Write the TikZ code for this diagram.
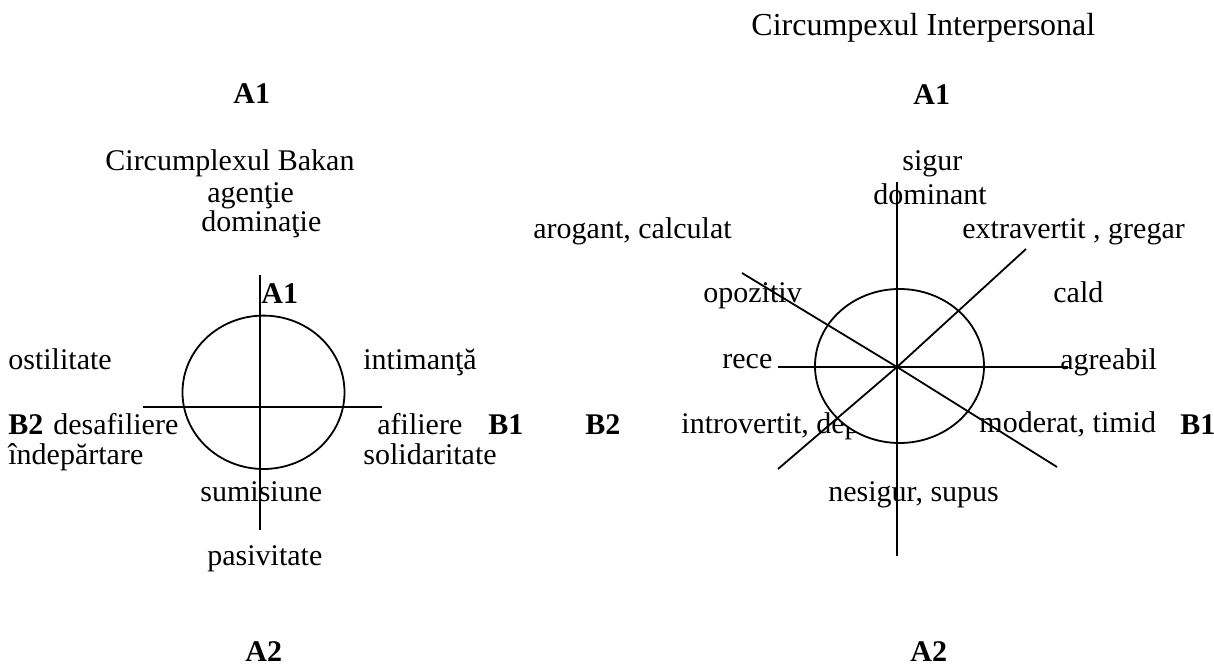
\documentclass[tikz,border=0pt]{standalone}
\usepackage{fontspec}
\setmainfont{Liberation Serif}
\begin{document}
\begin{tikzpicture}[x=0.5pt,y=-0.5pt,
  lbl/.style={anchor=base west,inner sep=0pt,font=\fontsize{15}{18}\selectfont},
  bl/.style={anchor=base west,inner sep=0pt,font=\fontsize{15}{18}\selectfont\bfseries},
  ttl/.style={anchor=base west,inner sep=0pt,font=\fontsize{16}{19}\selectfont},
  axis/.style={line width=0.9pt,black}]
\useasboundingbox (0,0) rectangle (1214,667);
% ---------- left diagram ----------
\node[bl]  (LA1)  at (233,104) {A1};
\node[lbl] (Lttl) at (105,171) {Circumplexul Bakan};
\node[lbl] (Lag)  at (207,203) {agenţie};
\node[lbl] (Ldom) at (201,232) {dominaţie};
\node[bl]  (LA1i) at (261,304) {A1};
\node[lbl] (Lost) at (8,370) {ostilitate};
\node[lbl] (Lint) at (363,370) {intimanţă};
\node[bl]  (LB2)  at (8,435) {B2};
\node[lbl] (Ldes) at (53,435) {desafiliere};
\node[lbl] (Laf)  at (377,435) {afiliere};
\node[bl]  (LB1)  at (488,435) {B1};
\node[lbl] (Lind) at (8,465) {îndepărtare};
\node[lbl] (Lsol) at (363,465) {solidaritate};
\node[lbl] (Lsum) at (200,502) {sumisiune};
\node[lbl] (Lpas) at (207,565) {pasivitate};
\node[bl]  (LA2)  at (245,661) {A2};
\coordinate (Lvt) at (260,275);
\coordinate (Lvb) at (260,530);
\coordinate (Lhl) at (143,406.7);
\coordinate (Lhr) at (382,406.7);
\coordinate (Lc) at (263.5,392.3);
\draw[axis] (Lc) ellipse [x radius=81, y radius=76.7];
\draw[axis] (Lvt) -- (Lvb);
\draw[axis] (Lhl) -- (Lhr);
% ---------- right diagram ----------
\node[ttl] (Rttl) at (751,36) {Circumpexul Interpersonal};
\node[bl]  (RA1)  at (913,105) {A1};
\node[lbl] (Rsig) at (902,171) {sigur};
\node[lbl] (Rdom) at (873,205) {dominant};
\node[lbl] (Raro) at (533,239) {arogant, calculat};
\node[lbl] (Rext) at (962,239) {extravertit , gregar};
\node[lbl] (Ropo) at (703,303) {opozitiv};
\node[lbl] (Rcal) at (1053,303) {cald};
\node[lbl] (Rrec) at (722,369) {rece};
\node[lbl] (Ragr) at (1060,370) {agreabil};
\node[bl]  (RB2)  at (585,435) {B2};
\node[lbl] (Rint) at (681,434) {introvertit, dep};
\node[lbl] (Rmod) at (979,433) {moderat, timid};
\node[bl]  (RB1)  at (1180,435) {B1};
\node[lbl] (Rnes) at (828,502) {nesigur, supus};
\node[bl]  (RA2)  at (910,661) {A2};
\coordinate (Rc) at (897,367);
\coordinate (Rvt) at (897,182);
\coordinate (Rvb) at (897,556);
\coordinate (Rhl) at (778,367);
\coordinate (Rhr) at (1068,367);
\coordinate (Rd1a) at (742,273);
\coordinate (Rd1b) at (1057,467);
\coordinate (Rd2a) at (1026,249);
\coordinate (Rd2b) at (778,469);
\coordinate (Re) at (899.5,366);
\draw[axis,fill=white] (Re) ellipse [x radius=84.5, y radius=77];
\draw[axis] (Rvt) -- (Rvb);
\draw[axis] (Rhl) -- (Rhr);
\draw[axis] (Rd1a) -- (Rc) -- (Rd1b);
\draw[axis] (Rd2a) -- (Rc) -- (Rd2b);
\end{tikzpicture}
\end{document}
